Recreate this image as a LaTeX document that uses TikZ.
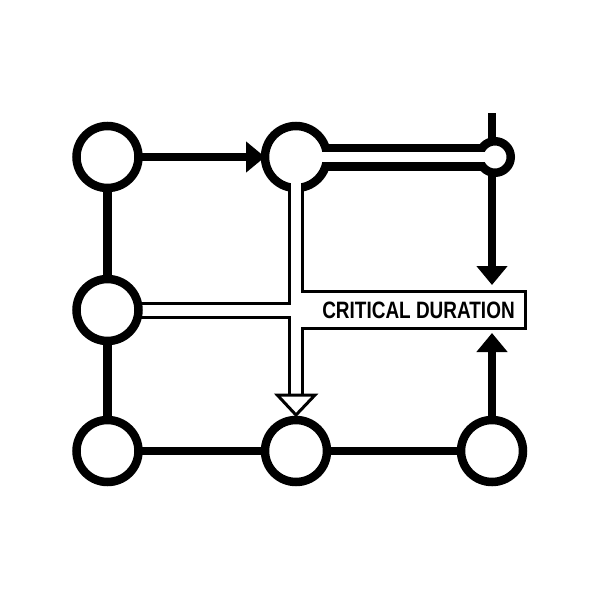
\documentclass[tikz,border=0pt]{standalone}
\usepackage{fontspec}
\setmainfont{Liberation Sans}
\usetikzlibrary{arrows.meta}
\pgfdeclarelayer{back}
\pgfdeclarelayer{front}
\pgfsetlayers{back,main,front}
\begin{document}
\begin{tikzpicture}[x=1pt,y=-1pt,
  ring/.style={circle,draw=black,fill=white,line width=8.5pt,minimum size=62pt,inner sep=0pt,outer sep=0pt},
  smallring/.style={circle,draw=black,fill=white,line width=8.5pt,minimum size=31.5pt,inner sep=0pt,outer sep=0pt},
  link/.style={line width=8.5pt,draw=black},
  arr/.style={line width=8pt,draw=black,-{Triangle[length=19pt,width=30pt]}},
  wall/.style={line width=3pt,draw=black,fill=white,line join=miter},
  band/.style={line width=27pt,draw=black},
  hollow/.style={line width=10pt,draw=white},
  ]
\useasboundingbox (0,0) rectangle (600,600);
% circles
\node[ring] (c1) at (107.5,157) {};
\node[ring] (c2) at (296,157) {};
\node[ring] (c3) at (107.5,310) {};
\node[ring] (c4) at (107.5,451) {};
\node[ring] (c5) at (296,451) {};
\node[ring] (c6) at (492,451) {};
\node[smallring] (sc) at (495,157) {};
\coordinate (stub) at (492,113);
\coordinate (dtip) at (492,285);
\coordinate (utip) at (492,333);
\begin{pgfonlayer}{back}
  \fill[white] (0,0) rectangle (600,600);
  \draw[band] (c2.center) -- (sc.center);
  \draw[wall] (289.5,157) -- (289.5,303.7) -- (107,303.7) -- (107,317) -- (289.5,317)
    -- (289.5,395) -- (302.5,395) -- (302.5,328.5) -- (525,328.5) -- (525,291)
    -- (302.5,291) -- (302.5,157) -- cycle;
  \draw[link] (c1.center) -- (c3.center);
  \draw[link] (c3.center) -- (c4.center);
  \draw[link] (c4.center) -- (c5.center);
  \draw[link] (c5.center) -- (c6.center);
  \draw[arr] (c1.center) -- (c2.west);
  \draw[arr] (stub) -- (dtip);
  \draw[arr] (c6.center) -- (utip);
\end{pgfonlayer}
\begin{pgfonlayer}{front}
  \draw[hollow] (c2.center) -- (sc.center);
  \draw[hollow] (c2.center) -- ++(0,45);
  \draw[wall] (277.3,395) -- (315,395) -- (296,415) -- cycle;
  \node[font=\bfseries\fontsize{23.7}{24}\selectfont,inner sep=0pt] (label) at (418.5,310.5)
    {\scalebox{0.8}[1]{CRITICAL DURATION}};
\end{pgfonlayer}
\end{tikzpicture}
\end{document}
